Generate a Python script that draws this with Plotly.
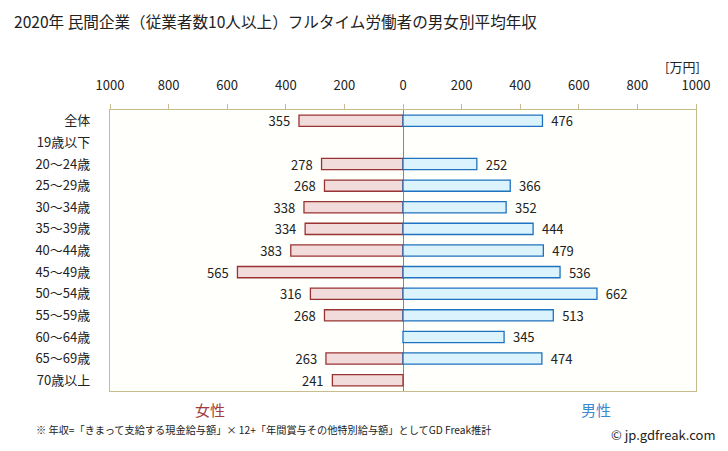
import plotly.graph_objects as go

categories = ["全体", "19歳以下", "20〜24歳", "25〜29歳", "30〜34歳", "35〜39歳",
              "40〜44歳", "45〜49歳", "50〜54歳", "55〜59歳", "60〜64歳", "65〜69歳", "70歳以上"]
female = [355, None, 278, 268, 338, 334, 383, 565, 316, 268, None, 263, 241]
male = [476, None, 252, 366, 352, 444, 479, 536, 662, 513, 345, 474, None]
tick_vals = [-1000, -800, -600, -400, -200, 0, 200, 400, 600, 800, 1000]
tick_text = ["1000", "800", "600", "400", "200", "0", "200", "400", "600", "800", "1000"]

FONT = "Noto Sans CJK JP"
W, H = 728, 451
ML, MR, MT, MB = 110, 32, 110, 60
PW, PH = W - ML - MR, H - MT - MB


def px_ann(text, x, y, size, color, anchor="left"):
    return dict(text=text, x=(x - ML) / PW, y=((H - y) - MB) / PH,
                xref="paper", yref="paper", showarrow=False,
                xanchor=anchor, yanchor="middle",
                font=dict(size=size, color=color, family=FONT))


fig = go.Figure()
fig.add_trace(go.Bar(
    y=categories,
    x=[-v if v is not None else None for v in female],
    orientation="h",
    marker=dict(color="#f2dcdb", line=dict(color="#993333", width=1.3)),
    text=[f"{v}  " if v is not None else "" for v in female],
    textposition="outside", constraintext="none",
    textfont=dict(size=13, color="#222222", family=FONT),
    cliponaxis=False,
    width=0.52,
    hoverinfo="skip",
))
fig.add_trace(go.Bar(
    y=categories,
    x=male,
    orientation="h",
    marker=dict(color="#dbf3fd", line=dict(color="#1f72c0", width=1.3)),
    text=[f"  {v}" if v is not None else "" for v in male],
    textposition="outside", constraintext="none",
    textfont=dict(size=13, color="#222222", family=FONT),
    cliponaxis=False,
    width=0.52,
    hoverinfo="skip",
))

fig.update_layout(
    width=W, height=H,
    margin=dict(l=ML, r=MR, t=MT, b=MB),
    barmode="overlay",
    showlegend=False,
    paper_bgcolor="white",
    plot_bgcolor="#fffffb",
    font=dict(family=FONT, size=13, color="#222222"),
    xaxis=dict(
        range=[-1000, 1000], side="top",
        tickvals=tick_vals, ticktext=tick_text,
        ticks="outside", ticklen=5, tickcolor="#c8bc8e",
        ticklabelstandoff=9,
        showgrid=False, zeroline=True, zerolinecolor="#888888", zerolinewidth=1.3,
        showline=True, linecolor="#c8bc8e", linewidth=1.3, mirror=True,
        tickfont=dict(size=13, color="#222222"),
    ),
    yaxis=dict(
        categoryorder="array", categoryarray=categories,
        autorange="reversed",
        showgrid=False, ticks="", ticklabelstandoff=16,
        showline=True, linecolor="#c8bc8e", linewidth=1.3, mirror=True,
        tickfont=dict(size=13, color="#222222"),
    ),
    annotations=[
        px_ann("2020年 民間企業（従業者数10人以上）フルタイム労働者の男女別平均年収", 12, 21, 15.6, "#222222"),
        px_ann("[万円]", 702, 67, 13, "#222222", "right"),
        px_ann("女性", 210, 409, 15, "#a03c3c", "center"),
        px_ann("男性", 596, 409, 15, "#3a8ad0", "center"),
        px_ann("※ 年収=「きまって支給する現金給与額」× 12+「年間賞与その他特別給与額」としてGD Freak推計",
               34, 430, 10.2, "#222222"),
        px_ann("© jp.gdfreak.com", 718, 434, 13, "#222222", "right"),
    ],
)
fig.write_html("out.html")
